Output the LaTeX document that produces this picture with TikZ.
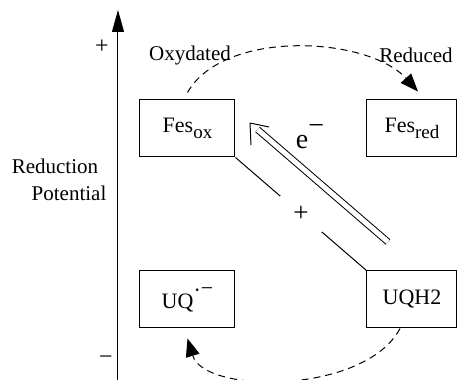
\documentclass[tikz,border=0pt]{standalone}
\usepackage{fontspec}
\setmainfont{Liberation Serif}
\usetikzlibrary{arrows.meta, calc}

\newcommand{\lowsub}[1]{\raisebox{-0.55ex}{\fontsize{9.5}{10}\selectfont #1}}

\begin{document}
\begin{tikzpicture}[
		x=0.5pt, y=-0.5pt,
		line width=0.5pt,
		every node/.style={font=\fontsize{10.5}{12}\selectfont},
		state box/.style={draw, minimum width=47.5pt, minimum height=28.5pt, inner sep=0pt, font=\fontsize{11}{12}\selectfont},
		transfer/.style={dash pattern=on 3.5pt off 2.5pt, -{Triangle[length=9pt,width=7pt]}}
	]
	\useasboundingbox (0,0) rectangle (457,380);
	% potential axis
	\coordinate (axbot) at (118,380);
	\coordinate (axtop) at (118,10);
	\draw[-{Triangle[length=11pt,width=6pt]}] (axbot) -- (axtop);
	\node[font=\fontsize{12}{12}\selectfont] (hi) at (102,47) {+};
	\node[font=\fontsize{12}{12}\selectfont] (lo) at (106,360) {−};
	\node (redlbl) at (55,166) {Reduction};
	\node (potlbl) at (69,193) {Potential};
	% states
	\node[state box] (fesox) at (187.5,128.5) {Fes\lowsub{ox}};
	\node[state box, minimum width=45pt] (fesred) at (412,128.5) {Fes\lowsub{red}};
	\node[state box] (uq) at (187.5,299.5) {UQ\raisebox{1.1ex}{·}\raisebox{1.3ex}{−}};
	\node[state box, minimum width=45pt] (uqh2) at (412,299.5) {UQH2};
	\node (oxlbl) at (190,55) {Oxydated};
	\node (redclbl) at (416,55) {Reduced};
	% transfers
	\draw[transfer] ($(fesox.north)+(0,-7)$) .. controls +(36.5,-64) and +(-50,-55) .. ($(fesred.north)+(6,-8)$);
	\draw[transfer] ($(uqh2.south)+(-12,0)$) .. controls +(-35,66) and +(17,56) .. ($(uq.south)+(0,10)$);
	\draw (fesox.south east) -- node[fill=white, minimum width=21pt, minimum height=18pt, font=\fontsize{13.5}{14}\selectfont] (plus) {+} (uqh2.north west);
	% electron transfer, open head
	\coordinate (eout) at (388,242);
	\coordinate (ein) at (250,123);
	\draw[double, double distance=2.5pt, shorten >=5pt] (eout) -- (ein);
	\draw (ein) -- ++(19,4) (ein) -- ++(1,22);
	\node[font=\fontsize{14}{14}\selectfont] (elec) at (310,137) {e\raisebox{1.1ex}{−}};
\end{tikzpicture}
\end{document}
